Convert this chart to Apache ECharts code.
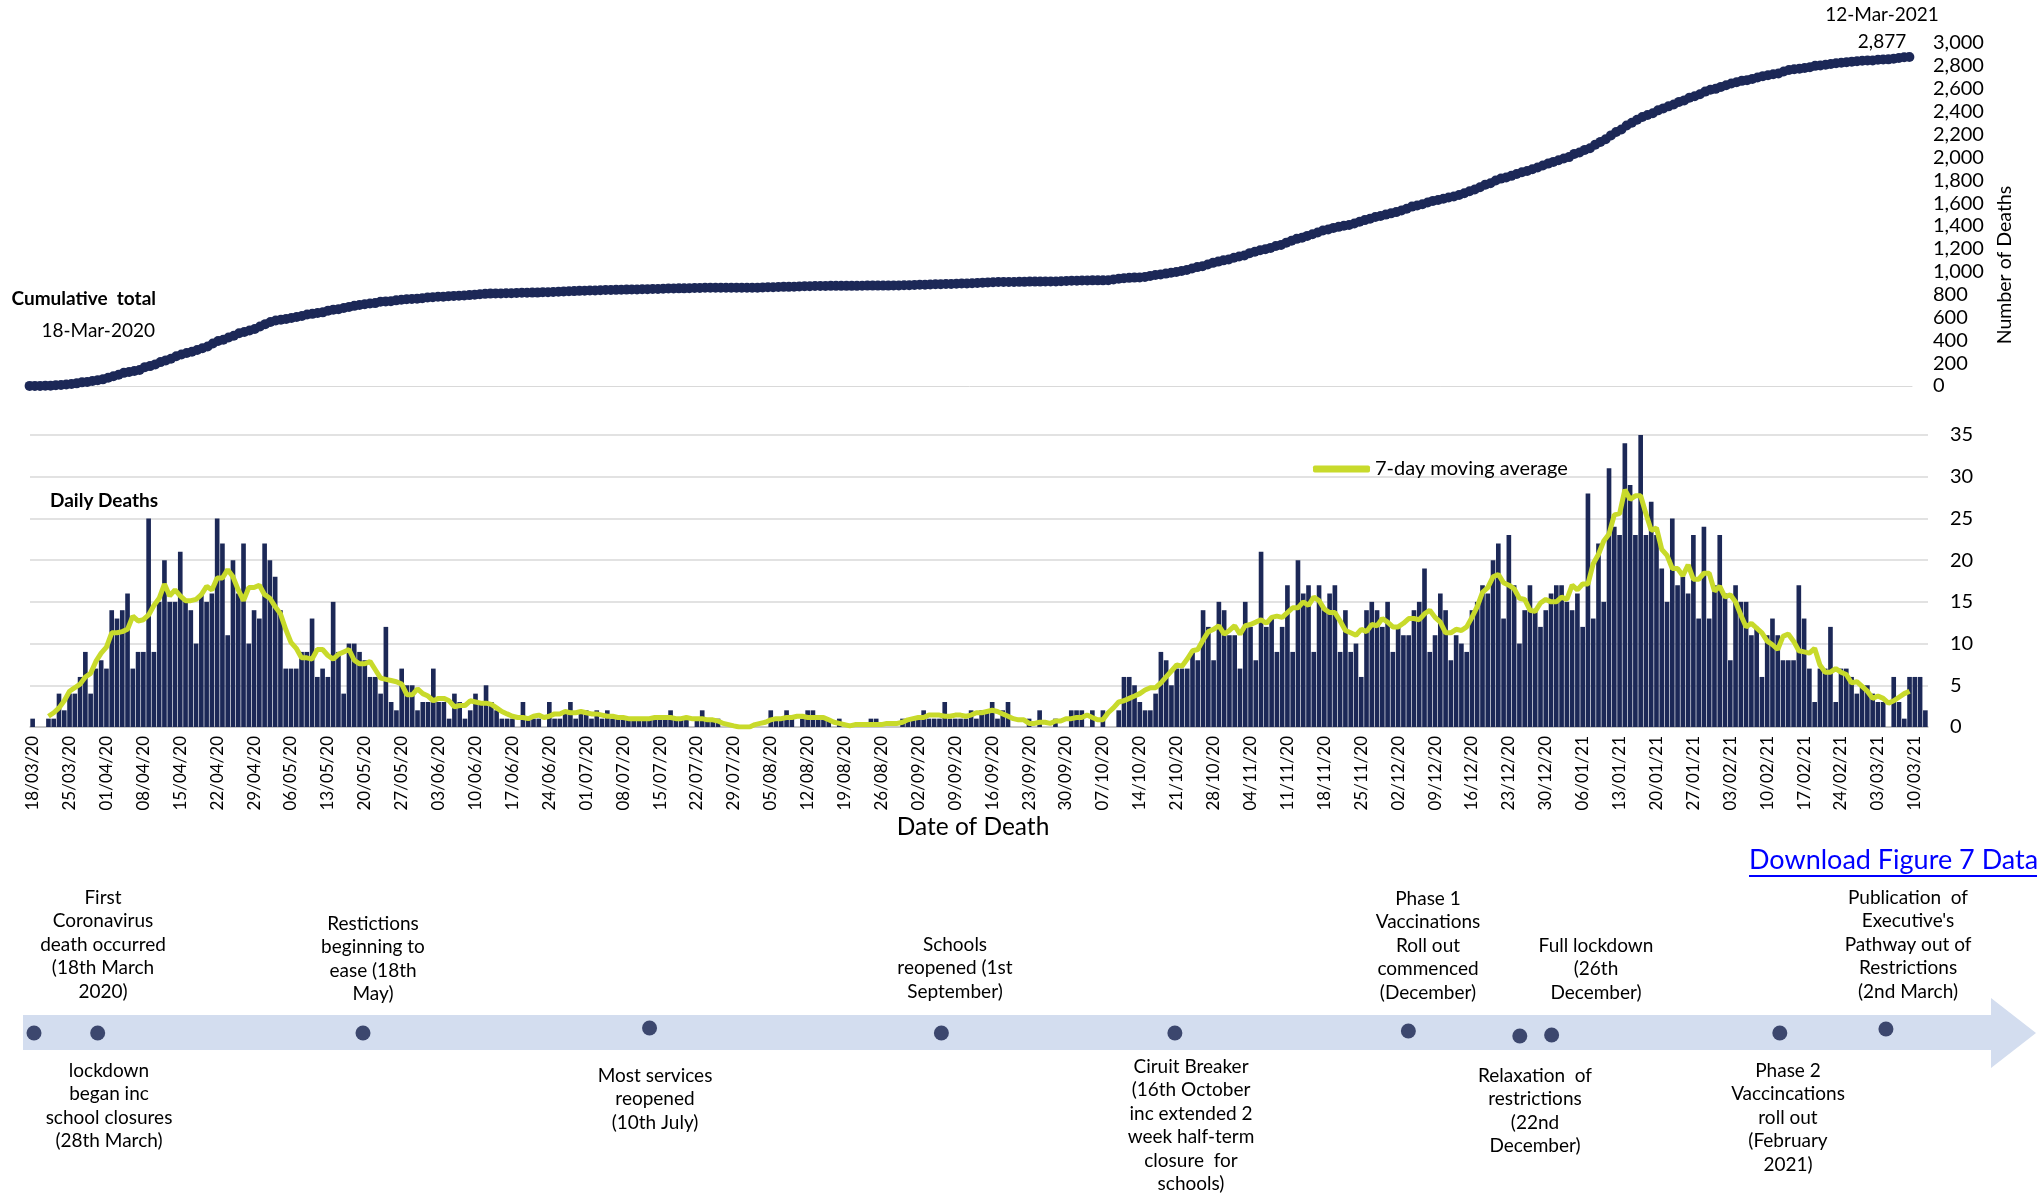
<!DOCTYPE html>
<html>
<head>
<meta charset="utf-8">
<script src="https://cdn.jsdelivr.net/npm/echarts@6/dist/echarts.min.js"></script>
<style>
html,body{margin:0;padding:0;background:#fff;}
#main{width:2043px;height:1200px;}
</style>
</head>
<body>
<div id="main"></div>
<script>
// daily deaths by date of death, 18/03/2020 - 12/03/2021
let dailyDeaths = [
    1,0,0,1,1,4,2,4,4,6,
    9,4,7,8,7,14,13,14,16,7,
    9,9,25,9,15,20,15,15,21,15,
    14,10,16,15,16,25,22,11,20,16,
    22,10,14,13,22,20,18,14,7,7,
    7,9,9,13,6,7,6,15,9,4,
    10,10,9,8,6,6,4,12,3,2,
    7,5,5,2,3,3,7,3,3,1,
    4,3,1,2,4,3,5,3,2,1,
    1,1,0,3,1,1,1,0,3,1,
    1,2,3,1,2,2,1,2,1,2,
    1,1,1,1,1,1,1,1,1,1,
    1,2,1,1,1,0,1,2,1,1,
    1,0,0,0,0,0,0,0,0,0,
    2,1,1,2,1,0,1,2,2,1,
    1,1,0,1,0,0,0,0,0,1,
    1,0,0,0,0,1,1,1,1,2,
    1,1,1,3,1,1,1,1,2,1,
    2,2,3,1,2,3,0,0,0,1,
    0,2,0,0,1,0,0,2,2,2,
    0,2,0,2,0,0,2,6,6,5,
    3,2,2,4,9,8,5,7,7,7,
    9,8,14,12,8,15,14,11,11,7,
    15,12,8,21,12,13,9,12,17,9,
    20,16,17,9,17,14,16,17,9,14,
    9,10,6,14,15,14,12,15,9,12,
    11,11,14,15,19,9,11,16,14,8,
    11,10,9,14,15,17,16,20,22,13,
    23,17,10,14,17,14,12,14,16,17,
    17,15,14,16,12,28,13,22,15,31,
    24,23,34,29,23,35,23,27,23,19,
    15,25,17,18,16,23,13,24,13,17,
    23,16,8,17,15,15,11,12,6,11,
    13,11,8,8,8,17,13,7,3,7,
    7,12,3,7,7,6,4,5,5,4,
    3,3,0,6,3,1,6,6,6,2
];

// timeline events: day number from 18/03/2020 and small vertical offset as drawn
let eventDay = [0, 12, 62, 116, 171, 215, 259, 280, 286, 329, 349];
let eventOffset = [0, 0, 0, 0.25, 0, 0, 0.1, -0.15, -0.1, 0, 0.2];
let eventText = [
    'First\nCoronavirus\ndeath occurred\n(18th March\n2020)',
    'lockdown\nbegan inc\nschool closures\n(28th March)',
    'Restictions\nbeginning to\nease (18th\nMay)',
    'Most services\nreopened\n(10th July)',
    'Schools\nreopened (1st\nSeptember)',
    'Ciruit Breaker\n(16th October\ninc extended 2\nweek half-term\nclosure  for\nschools)',
    'Phase 1\nVaccinations\nRoll out\ncommenced\n(December)',
    'Relaxation  of\nrestrictions\n(22nd\nDecember)',
    'Full lockdown\n(26th\nDecember)',
    'Phase 2\nVaccincations\nroll out\n(February\n2021)',
    'Publication  of\nExecutive\'s\nPathway out of\nRestrictions\n(2nd March)'
];

let navy = '#1c2857';
let lime = '#c8da2b';
let font = 'Lato, "Noto Sans", sans-serif';

// category labels dd/mm/yy
let dateLabels = [];
for (let i = 0; i < dailyDeaths.length; i++) {
    let d = new Date(2020, 2, 18 + i);
    let dd = ('0' + d.getDate()).slice(-2);
    let mm = ('0' + (d.getMonth() + 1)).slice(-2);
    let yy = String(d.getFullYear()).slice(-2);
    dateLabels.push(dd + '/' + mm + '/' + yy);
}

// cumulative total
let cumulative = [];
let run = 0;
dailyDeaths.forEach(function (v) {
    run += v;
    cumulative.push(run);
});

// centred 7-day moving average
let movingAvg = dailyDeaths.map(function (v, i) {
    if (i < 3 || i > dailyDeaths.length - 4) return null;
    let s = 0;
    for (let k = i - 3; k <= i + 3; k++) s += dailyDeaths[k];
    return +(s / 7).toFixed(2);
});

// label placement for the timeline notes [centre x, top y]
let notePos = [
    [103, 886], [109, 1059], [373, 912], [655, 1064], [955, 933], [1191, 1055],
    [1428, 887], [1535, 1064], [1596, 934], [1788, 1059], [1908, 886]
];

let graphics = [
    {
        type: 'polygon', z: 0,
        shape: {points: [[23, 1015], [1991, 1015], [1991, 998], [2036, 1033], [1991, 1068], [1991, 1050], [23, 1050]]},
        style: {fill: '#d3ddef'}
    },
    {type: 'text', x: 156, y: 299, style: {text: 'Cumulative  total', font: 'bold 19px ' + font, fill: '#000', textAlign: 'right', textVerticalAlign: 'middle'}},
    {type: 'text', x: 155, y: 331, style: {text: '18-Mar-2020', font: '19px ' + font, fill: '#000', textAlign: 'right', textVerticalAlign: 'middle'}},
    {type: 'text', x: 1882, y: 15, style: {text: '12-Mar-2021', font: '19px ' + font, fill: '#000', textAlign: 'center', textVerticalAlign: 'middle'}},
    {type: 'text', x: 1882, y: 42, style: {text: '2,877', font: '19px ' + font, fill: '#000', textAlign: 'center', textVerticalAlign: 'middle'}},
    {type: 'text', x: 2005, y: 265, rotation: Math.PI / 2, style: {text: 'Number of Deaths', font: '19.5px ' + font, fill: '#000', textAlign: 'center', textVerticalAlign: 'middle'}},
    {type: 'text', x: 50, y: 501, style: {text: 'Daily Deaths', font: 'bold 19px ' + font, fill: '#000', textAlign: 'left', textVerticalAlign: 'middle'}},
    {type: 'text', x: 1749, y: 860, style: {text: 'Download Figure 7 Data', font: '27px ' + font, fill: '#0000ff', textAlign: 'left', textVerticalAlign: 'middle'}},
    {type: 'rect', shape: {x: 1749, y: 875, width: 288, height: 2}, style: {fill: '#0000ff'}}
];
eventText.forEach(function (t, i) {
    graphics.push({
        type: 'text', x: notePos[i][0], y: notePos[i][1],
        style: {text: t, font: '19px ' + font, lineHeight: 23.5, fill: '#000', textAlign: 'center', textVerticalAlign: 'top'}
    });
});

let chart = echarts.init(document.getElementById('main'));
let option = {
    animation: false,
    backgroundColor: '#fff',
    textStyle: {fontFamily: font},
    legend: {
        data: ['7-day moving average'],
        left: 1308, top: 454,
        icon: 'roundRect',
        itemWidth: 57, itemHeight: 7,
        textStyle: {fontSize: 20, color: '#000'}
    },
    grid: [
        {left: 27, right: 131, top: 43, height: 343},
        {left: 30, right: 115, top: 435, height: 292},
        {left: 34, width: 1905, top: 1013, height: 40}
    ],
    xAxis: [
        {
            type: 'category', gridIndex: 0, data: dateLabels, boundaryGap: true,
            axisLine: {lineStyle: {color: '#d9d9d9'}},
            axisTick: {interval: 0, length: 6, lineStyle: {color: '#cfcfcf'}},
            axisLabel: {show: false}
        },
        {
            type: 'category', gridIndex: 1, data: dateLabels, boundaryGap: true,
            name: 'Date of Death', nameLocation: 'middle', nameGap: 78,
            nameTextStyle: {fontSize: 24.5, color: '#000', padding: [0, 12, 0, 0]},
            axisLine: {lineStyle: {color: '#bfbfbf', width: 1.5}},
            axisTick: {interval: 6, length: 5, lineStyle: {color: '#bfbfbf', width: 1.5}},
            axisLabel: {interval: 6, rotate: 90, fontSize: 17, color: '#000', margin: 9}
        },
        {type: 'value', gridIndex: 2, min: 0, max: 359, show: false}
    ],
    yAxis: [
        {
            type: 'value', gridIndex: 0, position: 'right', min: 0, max: 3000, interval: 200,
            splitLine: {show: false}, axisLine: {show: false}, axisTick: {show: false},
            axisLabel: {fontSize: 20, color: '#000', margin: 21, formatter: function (v) { return v.toLocaleString('en-GB'); }}
        },
        {
            type: 'value', gridIndex: 1, position: 'right', min: 0, max: 35, interval: 5,
            splitLine: {lineStyle: {color: '#d9d9d9', width: 1.5}},
            axisLine: {show: false}, axisTick: {show: false},
            axisLabel: {fontSize: 20, color: '#000', margin: 22}
        },
        {type: 'value', gridIndex: 2, min: -1, max: 1, show: false}
    ],
    series: [
        {
            name: 'Cumulative total', type: 'line', xAxisIndex: 0, yAxisIndex: 0,
            data: cumulative,
            symbol: 'circle', symbolSize: 10, showAllSymbol: true,
            itemStyle: {color: navy},
            lineStyle: {color: navy, width: 5}
        },
        {
            name: 'Daily deaths', type: 'bar', xAxisIndex: 1, yAxisIndex: 1,
            data: dailyDeaths,
            barCategoryGap: '12%',
            itemStyle: {color: navy}
        },
        {
            name: '7-day moving average', type: 'line', xAxisIndex: 1, yAxisIndex: 1,
            data: movingAvg,
            showSymbol: false, symbol: 'none',
            itemStyle: {color: lime},
            lineStyle: {color: lime, width: 5},
            z: 5
        },
        {
            name: 'Events', type: 'scatter', xAxisIndex: 2, yAxisIndex: 2,
            data: eventDay.map(function (d, i) { return [d, eventOffset[i]]; }),
            symbolSize: 15,
            itemStyle: {color: '#17224d'},
            z: 5
        }
    ],
    graphic: graphics
};
chart.setOption(option);
</script>
</body>
</html>
